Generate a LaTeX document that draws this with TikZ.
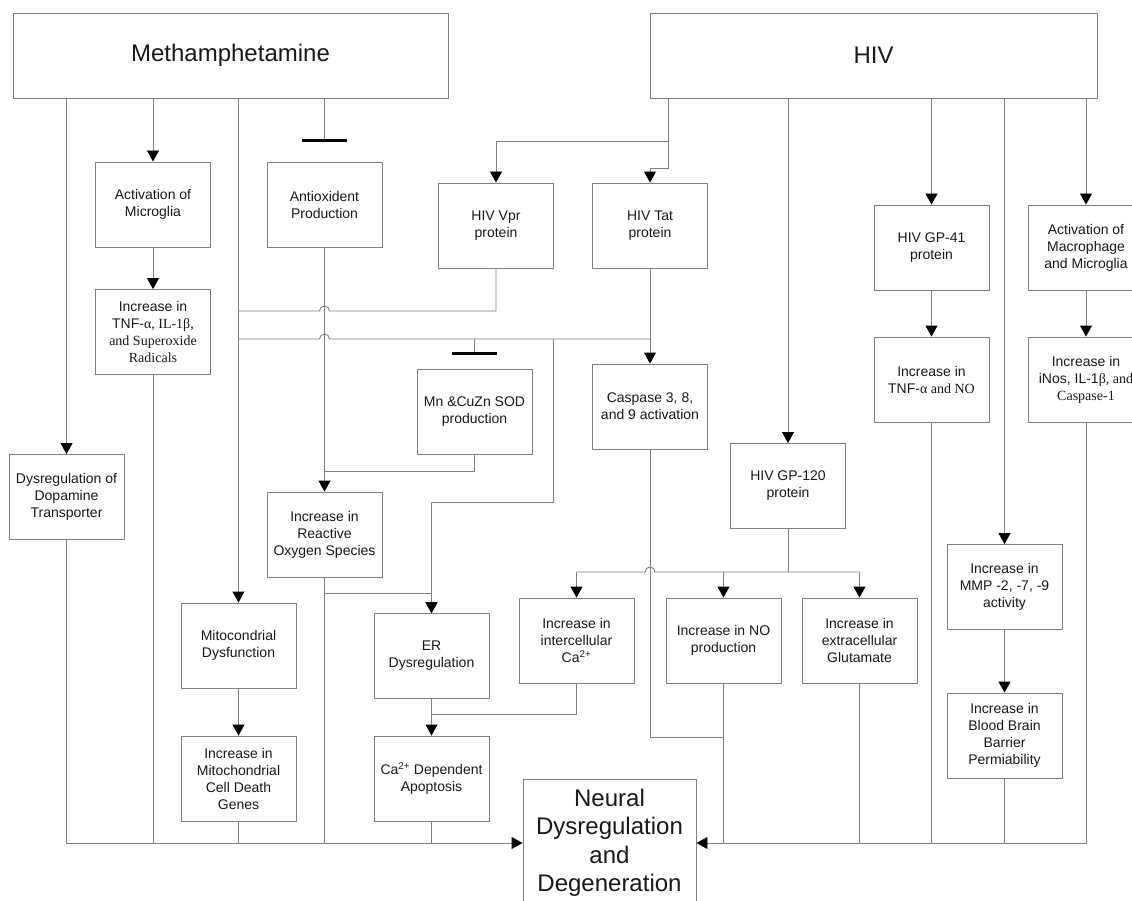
\documentclass[tikz,border=0pt]{standalone}
\usepackage{fontspec}
\setmainfont{Liberation Sans}
\newfontfamily\serf{Liberation Serif}
\usetikzlibrary{arrows.meta}
\definecolor{lc}{RGB}{128,128,128}
\definecolor{tc}{RGB}{25,25,25}
\begin{document}
\begin{tikzpicture}[x=1pt,y=-1pt,
  box/.style={draw=lc, line width=0.9pt, minimum width=115pt, minimum height=85pt, inner sep=0pt, align=center, text=tc, font=\fontsize{14}{17}\selectfont},
  big/.style={draw=lc, line width=0.9pt, inner sep=0pt, align=center, text=tc, font=\fontsize{24}{28.5}\selectfont},
  conn/.style={draw=lc, line width=0.9pt},
  arr/.style={conn, -{Triangle[length=11pt,width=12pt,color=black]}},
  inhib/.style={draw=black, line width=3pt}]
\useasboundingbox (0,0) rectangle (1132,901);
\clip (0,0) rectangle (1132,901);
\fill[white] (0,0) rectangle (1132,901);

% nodes
\node[big, minimum width=435pt, minimum height=85pt] (meth) at (230.5,55.5) {Methamphetamine};
\node[big, minimum width=447pt, minimum height=85pt] (hiv) at (873.5,55.5) {HIV};
\node[box] (dopa) at (66.5,497) {Dysregulation of\\Dopamine\\Transporter};
\node[box] (actmg) at (153,204.5) {Activation of\\Microglia};
\node[box] (tnf) at (153,332) {Increase in\\TNF-{\serf α, IL-1β,}\\{\serf and Superoxide}\\{\serf Radicals}};
\node[box] (antiox) at (324.5,204.5) {Antioxident\\Production};
\node[box] (vpr) at (496,225.5) {HIV Vpr\\protein};
\node[box] (tat) at (650,225.5) {HIV Tat\\protein};
\node[box] (gp41) at (931.5,247.5) {HIV GP-41\\protein};
\node[box, minimum width=116pt] (actmac) at (1086,247.5) {Activation of\\Macrophage\\and Microglia};
\node[box] (sod) at (474.5,411.5) {Mn \&CuZn SOD\\production};
\node[box] (casp) at (650,406.5) {Caspase 3, 8,\\and 9 activation};
\node[box] (tnfno) at (931.5,379.5) {Increase in\\TNF-{\serf α and NO}};
\node[box, minimum width=116pt] (inos) at (1086,379.5) {Increase in\\iNos, IL-1{\serf β, and}\\{\serf Caspase-1}};
\node[box] (gp120) at (788,486) {HIV GP-120\\protein};
\node[box] (ros) at (324.5,534.5) {Increase in\\Reactive\\Oxygen Species};
\node[box] (mmp) at (1004.5,587) {Increase in\\MMP -2, -7, -9\\activity};
\node[box] (mito) at (238.5,645.5) {Mitocondrial\\Dysfunction};
\node[box] (er) at (431.5,656) {ER\\Dysregulation};
\node[box] (ca) at (576.5,640.5) {Increase in\\intercellular\\Ca\textsuperscript{2+}};
\node[box] (no) at (723.5,640.5) {Increase in NO\\production};
\node[box] (glu) at (859.5,640.5) {Increase in\\extracellular\\Glutamate};
\node[box] (genes) at (238.5,778.5) {Increase in\\Mitochondrial\\Cell Death\\Genes};
\node[box] (apop) at (431.5,778.5) {Ca\textsuperscript{2+} Dependent\\Apoptosis};
\node[box] (bbb) at (1004.5,735.5) {Increase in\\Blood Brain\\Barrier\\Permiability};
\node[big, minimum width=173pt, minimum height=128pt] (neural) at (609.5,843) {Neural\\Dysregulation\\and\\Degeneration};

% Methamphetamine branches
\draw[arr] (dopa.north |- meth.south) -- (dopa.north);
\draw[arr] (actmg.north |- meth.south) -- (actmg.north);
\draw[arr] (actmg.south) -- (tnf.north);
\draw[arr] (mito.north |- meth.south) -- (mito.north);
\draw[conn] (antiox.north |- meth.south) -- (324.5,141) coordinate (barA);
\draw[inhib] ([xshift=-22.5pt]barA) -- ([xshift=22.5pt]barA);

% HIV branches
\coordinate (hA) at (668,141);
\draw[arr] (hA |- hiv.south) -- (hA) -| (vpr.north);
\draw[arr] (hA) -- (668,168) -| (tat.north);
\draw[arr] (gp120.north |- hiv.south) -- (gp120.north);
\draw[arr] (gp41.north |- hiv.south) -- (gp41.north);
\draw[arr] (mmp.north |- hiv.south) -- (mmp.north);
\draw[arr] (actmac.north |- hiv.south) -- (actmac.north);
\draw[arr] (gp41.south) -- (tnfno.north);
\draw[arr] (actmac.south) -- (inos.north);
\draw[arr] (mmp.south) -- (bbb.north);

% Vpr and Tat
\draw[conn] (vpr.south) -- (496,311) -- (329.5,311) arc[start angle=0,end angle=180,radius=5pt] -- (238.5,311);
\draw[arr] (tat.south) -- (casp.north);
\draw[conn] (650,339) -- (329.5,339) arc[start angle=0,end angle=180,radius=5pt] -- (238.5,339);
\draw[conn] (474.5,339) -- (474.5,353) coordinate (barB);
\draw[inhib] ([xshift=-22.5pt]barB) -- ([xshift=22.5pt]barB);
\draw[conn] (sod.south) -- (474.5,471) -- (324.5,471);
\draw[arr] (antiox.south) -- (ros.north);
\draw[arr] (553,339) -- (553,502) -- (431.5,502) -- (er.north);
\draw[arr] (324.5,593) -| (er.north);
\draw[arr] (er.south) -- (apop.north);
\draw[conn] (ca.south) -- (576.5,714) -- (431.5,714);
\draw[arr] (mito.south) -- (genes.north);

% Caspase and GP-120
\draw[conn] (casp.south) -- (650,737) -- (723.5,737);
\draw[conn] (gp120.south) -- (788,572);
\draw[conn] (576.5,572) -- (645,572) arc[start angle=180,end angle=0,radius=5pt] -- (859.5,572);
\draw[arr] (576.5,572) -- (ca.north);
\draw[arr] (723.5,572) -- (no.north);
\draw[arr] (859.5,572) -- (glu.north);

% bottom collectors
\draw[arr] (dopa.south) -- (dopa.south |- neural.west) -- (neural.west);
\draw[conn] (tnf.south) -- (tnf.south |- neural.west);
\draw[conn] (genes.south) -- (genes.south |- neural.west);
\draw[conn] (ros.south) -- (ros.south |- neural.west);
\draw[conn] (apop.south) -- (apop.south |- neural.west);
\draw[arr] (inos.south) -- (inos.south |- neural.east) -- (neural.east);
\draw[conn] (no.south) -- (no.south |- neural.east);
\draw[conn] (glu.south) -- (glu.south |- neural.east);
\draw[conn] (tnfno.south) -- (tnfno.south |- neural.east);
\draw[conn] (bbb.south) -- (bbb.south |- neural.east);
\end{tikzpicture}
\end{document}
